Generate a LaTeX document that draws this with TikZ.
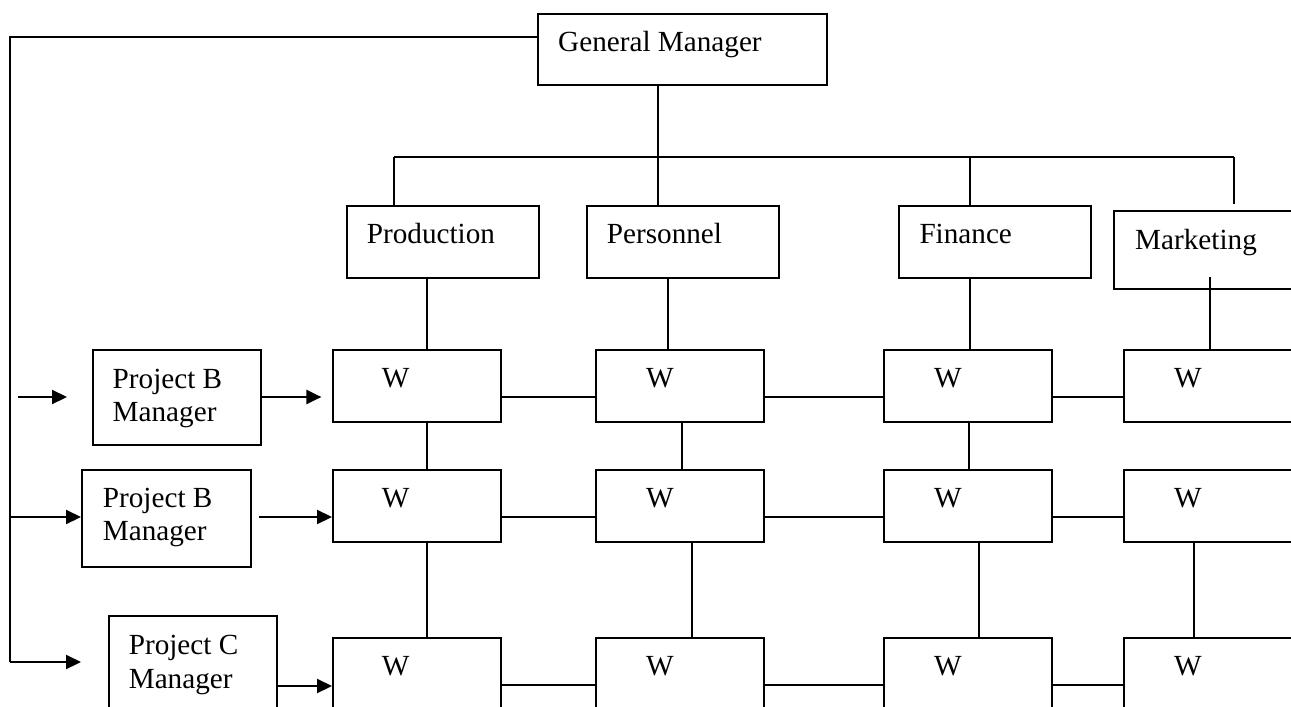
\documentclass[tikz,border=0pt]{standalone}
\usepackage{fontspec}
\setmainfont{Liberation Serif}
\usetikzlibrary{arrows.meta}
\tikzset{
  box/.style={draw=black, line width=1.7pt, rectangle, inner sep=0pt, anchor=north west},
  lbl/.style={inner sep=0pt, anchor=base west, font=\fontsize{29.2pt}{33pt}\selectfont},
  conn/.style={draw=black, line width=1.6pt},
  lead/.style={draw=black, line width=1.8pt},
  arr/.style={draw=black, line width=2.2pt, -{Triangle[length=15pt,width=14pt]}},
}
\begin{document}
\begin{tikzpicture}[x=1pt,y=-1pt]
\clip (0,0) rectangle (1291,707);
\fill[white] (0,0) rectangle (1291,707);
% top level
\node[box, minimum width=289pt, minimum height=71pt] (gm) at (537,13) {};
\node[lbl] (tgm) at (558,51) {General Manager};
% departments
\node[box, minimum width=192pt, minimum height=72pt] (prod) at (346,205) {};
\node[box, minimum width=192pt, minimum height=72pt] (pers) at (586,205) {};
\node[box, minimum width=192pt, minimum height=72pt] (fin) at (898,205) {};
\node[box, minimum width=192pt, minimum height=78pt] (mkt) at (1113,210) {};
\node[lbl] (tprod) at (366.7,243) {Production};
\node[lbl] (tpers) at (606.7,243) {Personnel};
\node[lbl] (tfin) at (919.3,243) {Finance};
\node[lbl] (tmkt) at (1135,249) {Marketing};
% W grid
\foreach \r/\y in {1/349,2/469,3/637}{
  \foreach \c/\x/\tx in {1/332/381.7,2/595/646,3/883/934,4/1123/1174}{
    \node[box, minimum width=168pt, minimum height=72pt] (w\r\c) at (\x,\y) {};
    \node[lbl] (tw\r\c) at (\tx,\y+38) {W};
  }
}
% project managers
\node[box, minimum width=168pt, minimum height=95pt] (pb1) at (92,349) {};
\node[lbl] (tpb1a) at (112.5,388) {Project B};
\node[lbl] (tpb1b) at (112.5,421.5) {Manager};
\node[box, minimum width=169pt, minimum height=97pt] (pb2) at (81,469) {};
\node[lbl] (tpb2a) at (102.7,507) {Project B};
\node[lbl] (tpb2b) at (102.7,540.5) {Manager};
\node[box, minimum width=168pt, minimum height=100pt] (pc) at (108,615) {};
\node[lbl] (tpca) at (128.6,654.5) {Project C};
\node[lbl] (tpcb) at (128.6,688) {Manager};
% coordinates
\coordinate (gmL) at (gm.west |- 0,37);
\coordinate (cTL) at (10,37);
\coordinate (cB2) at (10,517);
\coordinate (cB3) at (10,662);
\coordinate (a3) at (81,662);
\coordinate (f1s) at (18,397);
\coordinate (f1e) at (67,397);
\coordinate (busL) at (394,157);
\coordinate (busR) at (1234,157);
\coordinate (busM) at (658,157);
\coordinate (busF) at (970,157);
\coordinate (mktEnd) at (1234,204);
% GM to left spine and project C
\draw[lead] (gmL) -- (cTL) -- (cB3);
\draw[arr] (cB3) -- (a3);
\draw[arr] (cB2) -- (cB2 -| pb2.west);
\draw[arr] (f1s) -- (f1e);
% manager to W arrows
\draw[arr] (pb1.east |- 0,397) -- (321.4,397);
\draw[arr] (259,517) -- (w21.west |- 0,517);
\draw[arr] (pc.east |- 0,686) -- (w31.west |- 0,686);
% GM to bus
\draw[conn] (gm.south -| busM) -- (busM);
\draw[conn] (busL) -- (busR);
\draw[conn] (busL) -- (busL |- prod.north);
\draw[conn] (busM) -- (busM |- pers.north);
\draw[conn] (busF) -- (busF |- fin.north);
\draw[conn] (busR) -- (mktEnd);
% departments to W row 1
\draw[conn] (prod.south -| 427,0) -- (w11.north -| 427,0);
\draw[conn] (pers.south -| 668,0) -- (w12.north -| 668,0);
\draw[conn] (fin.south -| 970,0) -- (w13.north -| 970,0);
\draw[conn] (1210,277) -- (w14.north -| 1210,0);
% vertical between rows
\draw[conn] (w11.south -| 427,0) -- (w21.north -| 427,0);
\draw[conn] (w12.south -| 682,0) -- (w22.north -| 682,0);
\draw[conn] (w13.south -| 969,0) -- (w23.north -| 969,0);
\draw[conn] (w21.south -| 427,0) -- (w31.north -| 427,0);
\draw[conn] (w22.south -| 692,0) -- (w32.north -| 692,0);
\draw[conn] (w23.south -| 979,0) -- (w33.north -| 979,0);
\draw[conn] (w24.south -| 1194,0) -- (w34.north -| 1194,0);
% horizontal between columns
\foreach \r/\y in {1/397,2/517,3/685}{
  \draw[conn] (w\r1.east |- 0,\y) -- (w\r2.west |- 0,\y);
  \draw[conn] (w\r2.east |- 0,\y) -- (w\r3.west |- 0,\y);
  \draw[conn] (w\r3.east |- 0,\y) -- (w\r4.west |- 0,\y);
}
\end{tikzpicture}
\end{document}
